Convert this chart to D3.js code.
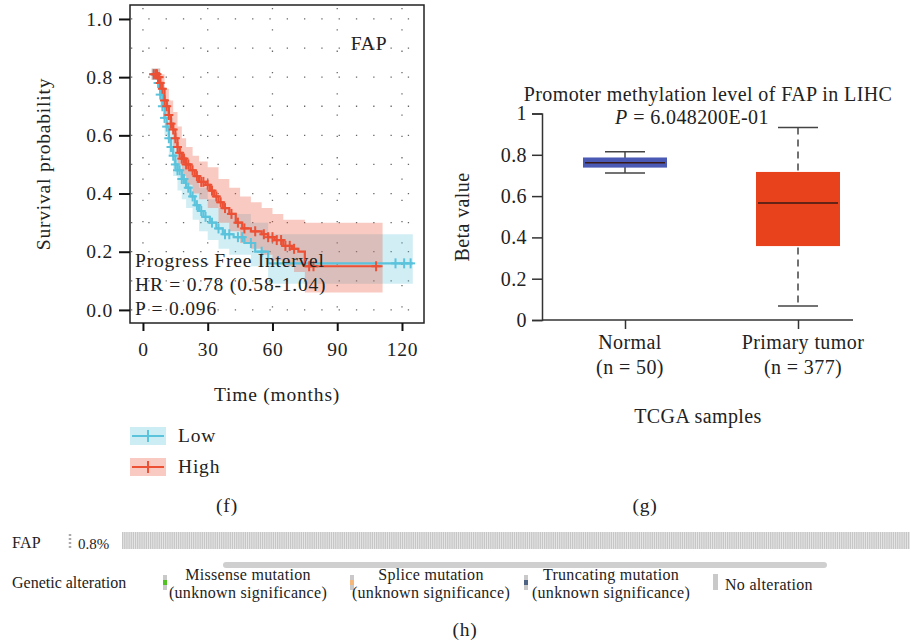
<!DOCTYPE html>
<html>
<head>
<meta charset="utf-8">
<script src="https://cdn.jsdelivr.net/npm/d3@7"></script>
<style>
  body { margin: 0; background: #fff; }
  svg { display: block; }
  text { font-family: "Liberation Serif", "DejaVu Serif", serif; fill: #222; }
  .big { font-size: 19.5px; letter-spacing: 0.8px; }
  .mid { font-size: 20px; letter-spacing: 0.4px; }
  .small { font-size: 16px; letter-spacing: 0.3px; }
</style>
</head>
<body>
<svg id="chart" width="911" height="644"></svg>
<script>

// ---- (f) survival data: step points [months, survival] ----
var highSteps = [[4,0.81],[7,0.80],[8,0.78],[9,0.76],[10,0.72],[11,0.70],[12,0.67],[13,0.64],[14,0.62],[15,0.59],[16,0.56],[17,0.54],[18,0.52],[20,0.50],[22,0.48],[24,0.46],[26,0.44],[29,0.43],[31,0.41],[33,0.39],[35,0.37],[37,0.35],[40,0.33],[43,0.30],[46,0.28],[50,0.27],[55,0.26],[58,0.25],[61,0.24],[65,0.22],[69,0.21],[72,0.20],[75,0.15],[111,0.15]];
var highUpper = [[4,0.83],[8,0.81],[10,0.76],[12,0.72],[14,0.68],[16,0.63],[18,0.59],[20,0.56],[23,0.53],[26,0.51],[30,0.49],[35,0.45],[40,0.42],[45,0.39],[50,0.37],[55,0.35],[60,0.33],[65,0.31],[75,0.30],[111,0.30]];
var highLower = [[4,0.79],[8,0.74],[10,0.67],[12,0.62],[14,0.56],[16,0.50],[18,0.46],[20,0.43],[23,0.40],[26,0.38],[30,0.35],[35,0.30],[40,0.27],[45,0.23],[50,0.21],[55,0.19],[60,0.17],[65,0.15],[70,0.13],[75,0.06],[111,0.06]];
var highCensor = [5,6,6.5,7,7.5,8,9,10,11,12,13,14,15,16,17,18,19,20,21,23,25,27,28,30,32,34,36,38,41,44,47,52,56,58,60,62,64,66,68,70,77,79,108];

var lowSteps = [[4,0.81],[7,0.78],[8,0.74],[9,0.70],[10,0.66],[11,0.63],[12,0.59],[13,0.56],[14,0.53],[15,0.50],[16,0.48],[18,0.45],[20,0.42],[22,0.39],[24,0.36],[26,0.34],[28,0.32],[31,0.30],[34,0.28],[37,0.26],[42,0.25],[47,0.23],[52,0.20],[58,0.16],[125,0.16]];
var lowUpper = [[4,0.83],[8,0.78],[10,0.71],[12,0.66],[14,0.61],[16,0.56],[18,0.53],[20,0.50],[23,0.46],[26,0.42],[30,0.38],[35,0.35],[40,0.33],[50,0.30],[58,0.26],[125,0.26]];
var lowLower = [[4,0.79],[8,0.70],[10,0.60],[12,0.53],[14,0.46],[16,0.41],[18,0.38],[20,0.35],[23,0.31],[26,0.27],[30,0.24],[35,0.21],[40,0.19],[50,0.15],[58,0.09],[125,0.09]];
var lowCensor = [5,6,7,8,9,10,11,12,13,14,15,16,17,18,19,21,23,25,27,29,32,35,38,40,44,46,50,55,117,121,124];

var timeTicks = [0, 30, 60, 90, 120];
var survTicks = [0.0, 0.2, 0.4, 0.6, 0.8, 1.0];
var kmLabels = ["Progress Free Intervel", "HR = 0.78 (0.58-1.04)", "P = 0.096"];

// ---- (g) methylation box plot ----
var boxCategories = ["Normal", "Primary tumor"];
var boxCounts = [50, 377];
var boxMin = [0.712, 0.068];
var boxQ1 = [0.738, 0.358];
var boxMedian = [0.762, 0.566];
var boxQ3 = [0.787, 0.717];
var boxMax = [0.815, 0.932];
var boxColors = ["#4a5ab4", "#e8421c"];
var betaTicks = [0, 0.2, 0.4, 0.6, 0.8, 1];

// ---- (h) oncoprint ----
var sampleCount = 366;
var alteredPct = "0.8%";
var alterationLegend = [
    { top: "Missense mutation", bottom: "(unknown significance)", color: "#4fc21f" },
    { top: "Splice mutation", bottom: "(unknown significance)", color: "#f5b77a" },
    { top: "Truncating mutation", bottom: "(unknown significance)", color: "#4d6485" }
];

var svg = d3.select("#chart");
var cyan = "#5bc3dc", red = "#ec5035";

// ======================= (f) =======================
var kmX = d3.scaleLinear().domain([-6, 130.2]).range([130, 424]);
var kmY = d3.scaleLinear().domain([-0.045, 1.048]).range([323, 5]);

var km = svg.append("g");

// dotted grid
km.selectAll("line.hgrid")
    .data(d3.range(0, 11).map(function(i) { return i / 10; }))
  .enter()
    .append("line")
    .attr("x1", 131).attr("x2", 423)
    .attr("y1", function(d) { return kmY(d); })
    .attr("y2", function(d) { return kmY(d); })
    .attr("stroke", "#666").attr("stroke-width", 1.3)
    .attr("stroke-dasharray", "1.3,16");
km.selectAll("line.vgrid")
    .data(timeTicks)
  .enter()
    .append("line")
    .attr("x1", function(d) { return kmX(d); })
    .attr("x2", function(d) { return kmX(d); })
    .attr("y1", 8).attr("y2", 322)
    .attr("stroke", "#666").attr("stroke-width", 1.3)
    .attr("stroke-dasharray", "1.3,20");

function stepValue(steps, t) {
    var v = steps[0][1];
    steps.forEach(function(p) { if (p[0] <= t) v = p[1]; });
    return v;
}

var stepLine = d3.line()
    .x(function(d) { return kmX(d[0]); })
    .y(function(d) { return kmY(d[1]); })
    .curve(d3.curveStepAfter);

function bandArea(upper, lower) {
    var times = upper.map(function(d) { return d[0]; })
        .concat(lower.map(function(d) { return d[0]; }));
    times = Array.from(new Set(times)).sort(d3.ascending);
    var pts = times.map(function(t) { return [t, stepValue(upper, t), stepValue(lower, t)]; });
    return d3.area()
        .x(function(d) { return kmX(d[0]); })
        .y0(function(d) { return kmY(d[2]); })
        .y1(function(d) { return kmY(d[1]); })
        .curve(d3.curveStepAfter)(pts);
}

km.append("path").attr("d", bandArea(lowUpper, lowLower))
    .attr("fill", cyan).attr("opacity", 0.28);
km.append("path").attr("d", bandArea(highUpper, highLower))
    .attr("fill", red).attr("opacity", 0.3);

function drawCurve(steps, censor, color) {
    km.append("path").datum(steps)
        .attr("d", stepLine)
        .attr("fill", "none").attr("stroke", color).attr("stroke-width", 2.2);
    var marks = km.selectAll(null)
        .data(censor)
      .enter()
        .append("g")
        .attr("transform", function(d) {
            return "translate(" + kmX(d) + "," + kmY(stepValue(steps, d)) + ")";
        });
    marks.append("line").attr("x1", -4.5).attr("x2", 4.5)
        .attr("stroke", color).attr("stroke-width", 2);
    marks.append("line").attr("y1", -5).attr("y2", 5)
        .attr("stroke", color).attr("stroke-width", 2);
}
drawCurve(lowSteps, lowCensor, cyan);
drawCurve(highSteps, highCensor, red);

// frame and axes
km.append("rect").attr("x", 130).attr("y", 5).attr("width", 294).attr("height", 318)
    .attr("fill", "none").attr("stroke", "#222").attr("stroke-width", 1.5);

var kmYAxis = km.append("g").attr("transform", "translate(130,0)")
    .call(d3.axisLeft(kmY).tickValues(survTicks).tickFormat(d3.format(".1f"))
        .tickSize(11).tickPadding(6));
var kmXAxis = km.append("g").attr("transform", "translate(0,323)")
    .call(d3.axisBottom(kmX).tickValues(timeTicks).tickSize(8).tickPadding(11));
[kmYAxis, kmXAxis].forEach(function(a) {
    a.attr("font-family", null).attr("font-size", null);
    a.select(".domain").remove();
    a.selectAll(".tick line").attr("stroke", "#111").attr("stroke-width", 2);
    a.selectAll("text").attr("class", "big").attr("fill", "#222");
});

km.append("text").attr("x", 369).attr("y", 50).attr("text-anchor", "middle")
    .attr("class", "big").text("FAP");

km.selectAll("text.kmlab")
    .data(kmLabels)
  .enter()
    .append("text")
    .attr("class", "big")
    .attr("x", 135)
    .attr("y", function(d, i) { return 267 + i * 24; })
    .text(function(d) { return d; });

km.append("text")
    .attr("transform", "translate(50,164) rotate(-90)")
    .attr("text-anchor", "middle").attr("class", "big")
    .text("Survival probability");
km.append("text").attr("x", 277).attr("y", 401).attr("text-anchor", "middle")
    .attr("class", "big").text("Time (months)");

// legend
var kmLegend = km.selectAll("g.kmleg")
    .data([{ name: "Low", color: cyan }, { name: "High", color: red }])
  .enter()
    .append("g")
    .attr("transform", function(d, i) { return "translate(130," + (427 + i * 31) + ")"; });
kmLegend.append("rect").attr("width", 36).attr("height", 18)
    .attr("fill", function(d) { return d.color; }).attr("opacity", 0.3);
kmLegend.append("line").attr("x1", 2).attr("x2", 34).attr("y1", 9).attr("y2", 9)
    .attr("stroke", function(d) { return d.color; }).attr("stroke-width", 2);
kmLegend.append("line").attr("x1", 18).attr("x2", 18).attr("y1", 3).attr("y2", 15)
    .attr("stroke", function(d) { return d.color; }).attr("stroke-width", 2);
kmLegend.append("text").attr("x", 48).attr("y", 15).attr("class", "big")
    .text(function(d) { return d.name; });

svg.append("text").attr("x", 227).attr("y", 512).attr("text-anchor", "middle")
    .attr("class", "big").text("(f)");

// ======================= (g) =======================
var bx = d3.scalePoint().domain(boxCategories).range([625, 798]);
var by = d3.scaleLinear().domain([0, 1]).range([320, 113.5]);
var bw = 84, capW = 40;

var box = svg.append("g");
var bYAxis = box.append("g").attr("transform", "translate(542,0)")
    .call(d3.axisLeft(by).tickValues(betaTicks).tickFormat(d3.format("")).tickSize(10).tickPadding(5));
bYAxis.select(".domain").attr("stroke", "#333").attr("stroke-width", 1.5);
var bXAxis = box.append("g").attr("transform", "translate(0,320)")
    .call(d3.axisBottom(bx).tickSize(9).tickFormat(""));
bXAxis.select(".domain").remove();
box.append("line").attr("x1", 542).attr("x2", 853).attr("y1", 320).attr("y2", 320)
    .attr("stroke", "#333").attr("stroke-width", 1.5);
[bYAxis, bXAxis].forEach(function(a) {
    a.attr("font-family", null).attr("font-size", null);
    a.selectAll(".tick line").attr("stroke", "#333").attr("stroke-width", 1.5);
    a.selectAll("text").attr("class", "mid").attr("fill", "#222");
});

var boxes = box.selectAll("g.box")
    .data(boxCategories)
  .enter()
    .append("g");
boxes.append("line")
    .attr("x1", function(d) { return bx(d); }).attr("x2", function(d) { return bx(d); })
    .attr("y1", function(d, i) { return by(boxMax[i]); })
    .attr("y2", function(d, i) { return by(boxMin[i]); })
    .attr("stroke", "#444").attr("stroke-width", 1.5)
    .attr("stroke-dasharray", function(d, i) { return i === 1 ? "7,5" : null; });
boxes.selectAll("line.cap")
    .data(function(d, i) { return [[d, boxMax[i]], [d, boxMin[i]]]; })
  .enter()
    .append("line")
    .attr("x1", function(d) { return bx(d[0]) - capW / 2; })
    .attr("x2", function(d) { return bx(d[0]) + capW / 2; })
    .attr("y1", function(d) { return by(d[1]); })
    .attr("y2", function(d) { return by(d[1]); })
    .attr("stroke", "#444").attr("stroke-width", 1.5);
boxes.append("rect")
    .attr("x", function(d) { return bx(d) - bw / 2; })
    .attr("width", bw)
    .attr("y", function(d, i) { return by(boxQ3[i]); })
    .attr("height", function(d, i) { return by(boxQ1[i]) - by(boxQ3[i]); })
    .attr("fill", function(d, i) { return boxColors[i]; });
boxes.append("line")
    .attr("x1", function(d) { return bx(d) - bw / 2 + 2; })
    .attr("x2", function(d) { return bx(d) + bw / 2 - 2; })
    .attr("y1", function(d, i) { return by(boxMedian[i]); })
    .attr("y2", function(d, i) { return by(boxMedian[i]); })
    .attr("stroke", "#3a1a14").attr("stroke-width", 1.5);
boxes.append("text")
    .attr("x", function(d) { return bx(d) + 5; }).attr("y", 349)
    .attr("text-anchor", "middle").attr("class", "mid")
    .text(function(d) { return d; });
boxes.append("text")
    .attr("x", function(d) { return bx(d) + 5; }).attr("y", 374)
    .attr("text-anchor", "middle").attr("class", "mid")
    .text(function(d, i) { return "(n = " + boxCounts[i] + ")"; });

box.append("text").attr("x", 708).attr("y", 101).attr("text-anchor", "middle")
    .attr("class", "mid").text("Promoter methylation level of FAP in LIHC");
var pText = box.append("text").attr("x", 692).attr("y", 124).attr("text-anchor", "middle")
    .attr("class", "mid");
pText.append("tspan").style("font-style", "italic").text("P");
pText.append("tspan").text(" = 6.048200E-01");
box.append("text")
    .attr("transform", "translate(469,217) rotate(-90)")
    .attr("text-anchor", "middle").attr("class", "mid").text("Beta value");
box.append("text").attr("x", 698).attr("y", 423).attr("text-anchor", "middle")
    .attr("class", "mid").text("TCGA samples");

svg.append("text").attr("x", 645).attr("y", 512).attr("text-anchor", "middle")
    .attr("class", "big").text("(g)");

// ======================= (h) =======================
var onco = svg.append("g");
var sx = d3.scaleBand().domain(d3.range(sampleCount)).range([122, 910]);

onco.append("text").attr("x", 12).attr("y", 548).attr("class", "small").text("FAP");
onco.append("line").attr("x1", 70).attr("x2", 70).attr("y1", 534).attr("y2", 549)
    .attr("stroke", "#aaa").attr("stroke-width", 2.5).attr("stroke-dasharray", "2,2");
onco.append("text").attr("x", 78).attr("y", 549).style("font-size", "15px").text(alteredPct);

onco.append("rect").attr("x", 122).attr("y", 532).attr("width", 788).attr("height", 17)
    .attr("fill", "#ebebeb");
onco.selectAll("rect.sample")
    .data(d3.range(sampleCount))
  .enter()
    .append("rect")
    .attr("x", function(d) { return sx(d); })
    .attr("width", sx.bandwidth() * 0.6)
    .attr("y", 532).attr("height", 17)
    .attr("fill", "#c6c6c6");

onco.append("rect").attr("x", 223).attr("y", 562).attr("width", 604).attr("height", 6)
    .attr("rx", 3).attr("fill", "#cfcfcf");

onco.append("text").attr("x", 12).attr("y", 588).attr("class", "small")
    .style("letter-spacing", "0px").text("Genetic alteration");

var legX = [163, 350, 524];
var legTextX = [248, 431, 611];
var legItems = onco.selectAll("g.alt")
    .data(alterationLegend)
  .enter()
    .append("g");
legItems.append("rect")
    .attr("x", function(d, i) { return legX[i]; }).attr("y", 575)
    .attr("width", 4).attr("height", 15).attr("fill", "#c9c9c9");
legItems.append("rect")
    .attr("x", function(d, i) { return legX[i]; }).attr("y", 580)
    .attr("width", 4).attr("height", 5).attr("fill", function(d) { return d.color; });
legItems.append("text")
    .attr("x", function(d, i) { return legTextX[i]; }).attr("y", 580)
    .attr("text-anchor", "middle").attr("class", "small")
    .text(function(d) { return d.top; });
legItems.append("text")
    .attr("x", function(d, i) { return legTextX[i]; }).attr("y", 598)
    .attr("text-anchor", "middle").attr("class", "small")
    .text(function(d) { return d.bottom; });

onco.append("rect").attr("x", 713).attr("y", 574).attr("width", 5).attr("height", 16)
    .attr("fill", "#c9c9c9");
onco.append("text").attr("x", 725).attr("y", 590).attr("class", "small").text("No alteration");

svg.append("text").attr("x", 465).attr("y", 636).attr("text-anchor", "middle")
    .attr("class", "big").text("(h)");

</script>
</body>
</html>
